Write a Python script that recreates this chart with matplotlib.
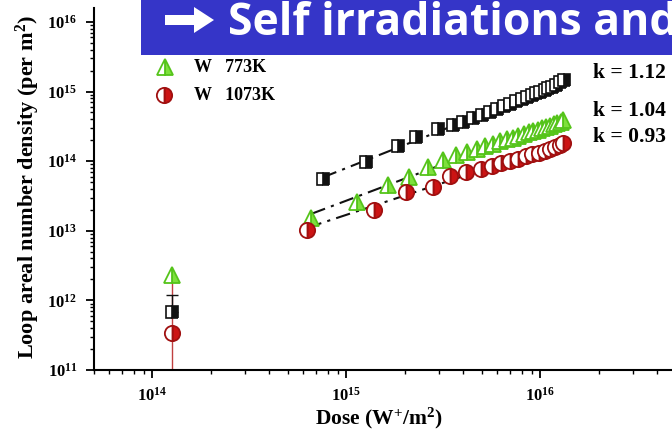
import numpy as np
import matplotlib
matplotlib.use("Agg")
import matplotlib.pyplot as plt
from matplotlib.patches import Rectangle, Polygon
from matplotlib.ticker import LogLocator, FuncFormatter, NullFormatter

plt.rcParams['font.family'] = ['Liberation Serif', 'DejaVu Serif']
plt.rcParams['font.weight'] = 'bold'
plt.rcParams['mathtext.fontset'] = 'custom'
plt.rcParams['mathtext.rm'] = 'Liberation Serif:bold'
plt.rcParams['mathtext.bf'] = 'Liberation Serif:bold'
plt.rcParams['mathtext.it'] = 'Liberation Serif:bold'

# ---- data (dose in W+/m^2, density per m^2) ----
black_dose = np.array([0.755, 1.26, 1.84, 2.29, 2.95, 3.53, 3.98, 4.47, 5.0, 5.5, 6.0, 6.5,
                       7.0, 7.5, 8.0, 8.5, 9.0, 9.5, 10.0, 10.5, 11.0, 11.5, 12.0, 12.6, 13.3]) * 1e15
black_dens = np.array([0.55, 0.96, 1.65, 2.25, 2.87, 3.31, 3.69, 4.13, 4.61, 5.1, 5.6, 6.1,
                       6.6, 7.2, 7.7, 8.3, 8.8, 9.4, 10.0, 10.6, 11.2, 11.8, 12.6, 13.6, 14.7]) * 1e14

green_dose = np.array([0.66, 1.14, 1.63, 2.11, 2.62, 3.13, 3.67, 4.2, 4.7, 5.2, 5.7, 6.2, 6.7,
                       7.2, 7.7, 8.2, 8.7, 9.2, 9.7, 10.2, 10.7, 11.2, 11.7, 12.2, 12.7, 13.1]) * 1e15
green_dens = np.array([1.51, 2.6, 4.5, 6.0, 8.3, 10.4, 12.3, 13.5, 15.0, 16.4, 17.8, 19.2, 20.5,
                       21.8, 23.2, 24.5, 25.8, 27.1, 28.4, 29.7, 31.0, 32.4, 33.7, 35.0, 36.6, 38.5]) * 1e13

red_dose = np.array([0.63, 1.39, 2.03, 2.79, 3.4, 4.14, 4.95, 5.6, 6.3, 7.0, 7.7, 8.4, 9.1,
                     9.8, 10.5, 11.2, 11.9, 12.6, 13.0]) * 1e15
red_dens = np.array([1.02, 2.0, 3.65, 4.3, 6.2, 7.0, 7.8, 8.6, 9.3, 10.1, 10.9, 11.7, 12.5,
                     13.3, 14.2, 15.1, 16.1, 17.2, 18.3]) * 1e13

low_dose = 1.26e14
low_black, low_black_up = 6.9e11, 1.2e12
low_green = 2.3e12
low_red, low_red_lo, low_red_up = 3.4e11, 5e10, 2.3e12

k_labels = ["k = 1.12", "k = 1.04", "k = 0.93"]
legend_labels = ["W   773K", "W   1073K"]
title_text = "Self irradiations and"

BLACK = '#111111'
GREEN = '#7ee03c'
GREEN_E = '#55c41a'
RED = '#cc1414'
RED_E = '#a01010'

W, H = 672, 433
fig = plt.figure(figsize=(W / 100, H / 100), dpi=100)
x0, y0, ytop = 94, 370, 8
xlim = (5e13, 5e16)
ylim = (1e11, 10 ** 16.2)
dec_x = 194.0
wpx = np.log10(xlim[1] / xlim[0]) * dec_x
ax = fig.add_axes([x0 / W, (H - y0) / H, wpx / W, (y0 - ytop) / H])
ax.set_xscale('log')
ax.set_yscale('log')
ax.set_xlim(*xlim)
ax.set_ylim(*ylim)

sq = dict(marker='s', markersize=9, markerfacecolor=BLACK, markerfacecoloralt='white',
          markeredgecolor=BLACK, fillstyle='right', markeredgewidth=1.2, linestyle='none')
tri = dict(marker='^', markersize=11, markerfacecolor=GREEN, markerfacecoloralt='white',
           markeredgecolor=GREEN_E, fillstyle='right', markeredgewidth=1.3, linestyle='none')
cir = dict(marker='o', markersize=11, markerfacecolor=RED, markerfacecoloralt='white',
           markeredgecolor=RED_E, fillstyle='right', markeredgewidth=1.3, linestyle='none')

# fit lines
for d, n in [(black_dose, black_dens), (green_dose, green_dens), (red_dose, red_dens)]:
    p = np.polyfit(np.log10(d), np.log10(n), 1)
    xx = np.array([d[0], d[-1]])
    ax.plot(xx, 10 ** np.polyval(p, np.log10(xx)), color=BLACK, lw=1.5,
            linestyle=(0, (7, 3, 1.5, 3)), zorder=3)

ax.plot(black_dose, black_dens, zorder=4, **sq)
ax.plot(green_dose, green_dens, zorder=5, **tri)
ax.plot(red_dose, red_dens, zorder=6, **cir)

# low dose points with error bars
ax.errorbar([low_dose], [low_red], yerr=[[low_red - low_red_lo], [low_red_up - low_red]],
            fmt='none', ecolor='#c04040', elinewidth=1.0, capsize=0, zorder=2)
ax.errorbar([low_dose], [low_black], yerr=[[0], [low_black_up - low_black]],
            fmt='none', ecolor=BLACK, elinewidth=1.0, capsize=4, zorder=2)
ax.plot([low_dose], [low_green], zorder=5, **tri)
ax.plot([low_dose], [low_black], zorder=4, **sq)
ax.plot([low_dose], [low_red], zorder=6, **cir)

for s in ['top', 'right']:
    ax.spines[s].set_visible(False)
for s in ['left', 'bottom']:
    ax.spines[s].set_linewidth(1.5)

fmt = FuncFormatter(lambda v, pos: r'$\mathbf{10^{%d}}$' % int(round(np.log10(v))))
ax.xaxis.set_major_locator(LogLocator(base=10, numticks=10))
ax.yaxis.set_major_locator(LogLocator(base=10, numticks=10))
ax.xaxis.set_minor_locator(LogLocator(base=10, subs=np.arange(2, 10), numticks=20))
ax.yaxis.set_minor_locator(LogLocator(base=10, subs=np.arange(2, 10), numticks=20))
ax.xaxis.set_major_formatter(fmt)
ax.yaxis.set_major_formatter(fmt)
ax.xaxis.set_minor_formatter(NullFormatter())
ax.yaxis.set_minor_formatter(NullFormatter())
ax.tick_params(which='major', direction='out', length=6, width=1.3, labelsize=12, pad=6)
ax.tick_params(which='minor', direction='out', length=3, width=1.0)

fig.text(379 / W, 1 - 418 / H, r'Dose (W$^{\mathbf{+}}$/m$^{\mathbf{2}}$)', ha='center', va='center',
         fontsize=15.5, fontweight='bold')
fig.text(28 / W, 1 - 187 / H, r'Loop areal number density (per m$^{\mathbf{2}}$)', ha='center',
         va='center', rotation=90, fontsize=16, fontweight='bold')

# legend entries (partially visible)
fig.lines.append(plt.Line2D([165 / W], [1 - 67 / H], transform=fig.transFigure, **tri))
fig.lines.append(plt.Line2D([164 / W], [1 - 95 / H], transform=fig.transFigure, **cir))
fig.text(194 / W, 1 - 67 / H, legend_labels[0], ha='left', va='center', fontsize=13, fontweight='bold')
fig.text(194 / W, 1 - 95 / H, legend_labels[1], ha='left', va='center', fontsize=13, fontweight='bold')

# k labels
for lab, yy in zip(k_labels, [73, 111, 137]):
    fig.text(593 / W, 1 - yy / H, lab, ha='left', va='center', fontsize=15.5, fontweight='bold')

# title banner
fig.add_artist(Rectangle((141 / W, 1 - 55 / H), 1.0, 55 / H, transform=fig.transFigure,
                         facecolor='#3535c8', edgecolor='none', zorder=10))
arrow_px = [(165, 15), (194, 15), (194, 7), (214, 20), (194, 33), (194, 25), (165, 25)]
fig.add_artist(Polygon([(px / W, 1 - py / H) for px, py in arrow_px], closed=True,
                       transform=fig.transFigure, facecolor='white', edgecolor='none', zorder=11))
fig.text(228 / W, 1 - 35 / H, title_text, ha='left', va='baseline', color='white',
         fontsize=32, family=['Open Sans', 'DejaVu Sans'], fontweight='bold', zorder=11)

fig.savefig('out.png', dpi=100)
